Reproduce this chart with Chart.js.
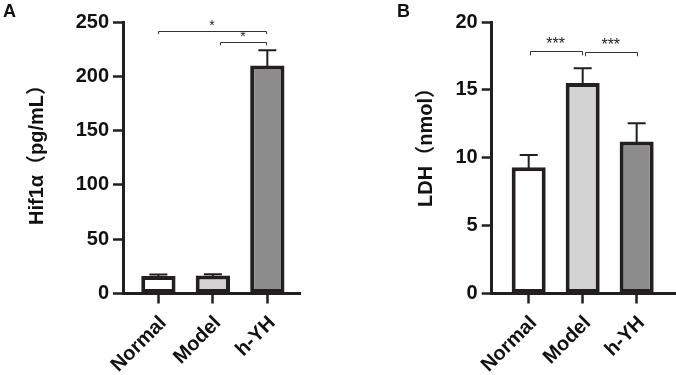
<!DOCTYPE html>
<html><head><meta charset="utf-8">
<script src="https://cdn.jsdelivr.net/npm/chart.js@4/dist/chart.umd.min.js"></script>
<style>
html,body{margin:0;padding:0;background:#fff;}
#wrap{position:relative;width:676px;height:375px;overflow:hidden;}
#a{position:absolute;left:0;top:0;}
#b{position:absolute;left:338px;top:0;}
</style></head><body>
<div id="wrap"><canvas id="a" width="338" height="375"></canvas><canvas id="b" width="338" height="375"></canvas></div>
<script>
const categories = ['Normal', 'Model', 'h-YH'];
const barColors = ['#ffffff', '#d2d2d2', '#8c8c8c'];
const hifMeans = [16.2, 16.6, 210];
const hifSD = [1.3, 1.2, 14];
const ldhMeans = [9.3, 15.5, 11.2];
const ldhSD = [0.9, 1.1, 1.35];
const hifTicks = [0, 50, 100, 150, 200, 250];
const ldhTicks = [0, 5, 10, 15, 20];
const hifBrackets = [
  {from: 0, to: 1.97, y: 242, drop: 3, label: '*'},
  {from: 1.14, to: 1.97, y: 232, drop: 3.5, label: '*'}
];
const ldhBrackets = [
  {from: 0.02, to: 0.98, y: 17.85, drop: 0.3, label: '***'},
  {from: 1.04, to: 2.0, y: 17.78, drop: 0.3, label: '***'}
];

const INK = '#231f20';
const FONT = "'Liberation Sans', Arial, 'Noto Sans CJK SC', sans-serif";

const overlay = {
  id: 'overlay',
  afterDatasetsDraw(chart, args, opts) {
    const ctx = chart.ctx;
    const xs = chart.scales.x, ys = chart.scales.y;
    const meta = chart.getDatasetMeta(0);
    ctx.save();
    ctx.strokeStyle = INK;
    ctx.lineWidth = 2;
    meta.data.forEach((bar, i) => {
      const m = opts.means[i], sd = opts.sd[i];
      const yTop = ys.getPixelForValue(m + sd);
      ctx.beginPath();
      ctx.moveTo(bar.x, bar.y + 2);
      ctx.lineTo(bar.x, yTop);
      ctx.moveTo(bar.x - 9, yTop);
      ctx.lineTo(bar.x + 9, yTop);
      ctx.stroke();
    });
    ctx.lineWidth = 1;
    ctx.strokeStyle = '#333';
    ctx.fillStyle = '#222';
    opts.brackets.forEach(b => {
      const x1 = xs.getPixelForValue(b.from), x2 = xs.getPixelForValue(b.to);
      const y = ys.getPixelForValue(b.y), y2 = ys.getPixelForValue(b.y - b.drop);
      ctx.beginPath();
      ctx.moveTo(Math.round(x1) + 0.5, y2);
      ctx.lineTo(Math.round(x1) + 0.5, Math.round(y) + 0.5);
      ctx.lineTo(Math.round(x2) + 0.5, Math.round(y) + 0.5);
      ctx.lineTo(Math.round(x2) + 0.5, y2);
      ctx.stroke();
      ctx.font = opts.starFont + ' ' + FONT;
      ctx.textAlign = 'center';
      ctx.textBaseline = 'alphabetic';
      ctx.fillText(b.label, (x1 + x2) / 2, y + opts.starDy);
    });
    ctx.font = 'bold 18px ' + FONT;
    ctx.fillStyle = '#111';
    ctx.textAlign = 'left';
    ctx.fillText(opts.letter, opts.letterX, 17);
    ctx.translate(opts.titleX, opts.titleY);
    ctx.rotate(-Math.PI / 2);
    ctx.font = 'bold 20px ' + FONT;
    ctx.textAlign = 'center';
    ctx.textBaseline = 'alphabetic';
    ctx.fillText(opts.title, 0, 0);
    ctx.restore();
  }
};

function makeChart(id, cfg) {
  const tickFont = {family: FONT, size: 20, weight: 'bold'};
  return new Chart(document.getElementById(id), {
    type: 'bar',
    data: {
      datasets: [{
        data: cfg.means.map((v, i) => ({x: i, y: v})),
        backgroundColor: barColors,
        borderColor: INK,
        borderWidth: 4,
        borderSkipped: false,
        barPercentage: 0.63,
        categoryPercentage: 1
      }]
    },
    options: {
      responsive: false,
      animation: false,
      devicePixelRatio: 1,
      layout: {padding: {left: 0, right: cfg.padRight, top: 22, bottom: 0}},
      plugins: {
        legend: {display: false},
        tooltip: {enabled: false},
        overlay: {means: cfg.means, sd: cfg.sd, brackets: cfg.brackets, letter: cfg.letter,
                  letterX: cfg.letterX, starFont: cfg.starFont, starDy: cfg.starDy,
                  title: cfg.title, titleX: cfg.titleX, titleY: cfg.titleY}
      },
      scales: {
        x: {
          type: 'linear',
          offset: false,
          bounds: 'data',
          min: cfg.xMin, max: cfg.xMax,
          afterDataLimits: s => { s.min = cfg.xMin; s.max = cfg.xMax; },
          afterBuildTicks: s => { s.ticks = categories.map((c, i) => ({value: i})); },
          afterFit: s => { s.height = 81.5; },
          ticks: {
            autoSkip: false, minRotation: 45, maxRotation: 45,
            callback: v => categories[v],
            font: tickFont, color: '#111', padding: 8, labelOffset: 5
          },
          grid: {offset: false, drawOnChartArea: false, tickLength: 10, tickWidth: 2.5, tickColor: INK},
          border: {display: true, width: 3, color: INK}
        },
        y: {
          min: 0, max: cfg.yTicks[cfg.yTicks.length - 1],
          afterBuildTicks: s => { s.ticks = cfg.yTicks.map(v => ({value: v})); },
          afterFit: s => { s.width = cfg.yWidth; },
          ticks: {font: tickFont, color: '#111', padding: 4},
          grid: {drawOnChartArea: false, tickLength: 10, tickWidth: 2.5, tickColor: INK},
          border: {display: true, width: 3, color: INK},
          title: {display: false}
        }
      }
    },
    plugins: [overlay]
  });
}

makeChart('a', {means: hifMeans, sd: hifSD, brackets: hifBrackets, yTicks: hifTicks,
  xMin: -0.65, xMax: 2.6, padRight: 38, yWidth: 123, title: 'Hif1α（pg/mL）', titleX: 43, titleY: 150,
  letter: 'A', letterX: 3, starFont: '14px', starDy: -1});
makeChart('b', {means: ldhMeans, sd: ldhSD, brackets: ldhBrackets, yTicks: ldhTicks,
  xMin: -0.685, xMax: 2.71, padRight: 1, yWidth: 153.7, title: 'LDH（nmol）', titleX: 94, titleY: 142.5,
  letter: 'B', letterX: 59, starFont: '16px', starDy: -2});
</script>
</body></html>
